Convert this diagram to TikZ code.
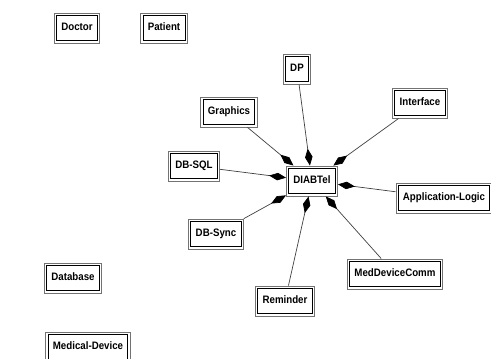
\documentclass[tikz,border=0pt]{standalone}
\usepackage{fontspec}
\setmainfont[FakeStretch=0.9]{Liberation Sans}
\usetikzlibrary{arrows.meta}

\begin{document}
\begin{tikzpicture}
   [x=1pt,y=-1pt,
    every node/.style={draw=black!55, line width=0.9pt,
      inner xsep=7pt, text height=8pt, text depth=2.2pt, minimum height=30pt,
      font=\fontsize{10.8}{12}\selectfont\bfseries,
      path picture={\draw[black, line width=0.9pt]
        ([shift={(2.2pt,-2.2pt)}]path picture bounding box.north west) rectangle
        ([shift={(-2.2pt,2.2pt)}]path picture bounding box.south east);}},
    comp/.style={draw=black!75, line width=0.7pt,
      -{Diamond[length=17pt,width=7.5pt,color=black]}}]

\useasboundingbox (0,0) rectangle (491,359);

%%%%%%%%%%%%%%%%%%%%%%%%%%%%%%%%%%%%%%%%%%%%%%%%%%%%%%%%%%%%%%%
% Classes without links
%%%%%%%%%%%%%%%%%%%%%%%%%%%%%%%%%%%%%%%%%%%%%%%%%%%%%%%%%%%%%%%

\node[](doctor) at (77,28) {Doctor};
\node[](patient) at (164,28) {Patient};
\node[](database) at (73,278) {Database};
\node[](meddev) at (88,347) {Medical-Device};

%%%%%%%%%%%%%%%%%%%%%%%%%%%%%%%%%%%%%%%%%%%%%%%%%%%%%%%%%%%%%%%
% DIABTel and its parts
%%%%%%%%%%%%%%%%%%%%%%%%%%%%%%%%%%%%%%%%%%%%%%%%%%%%%%%%%%%%%%%

\node[](diab) at (312,181) {DIABTel};

\node[](dp) at (297,69) {DP};
\node[](graphics) at (229,112) {Graphics};
\node[](interface) at (420,103) {Interface};
\node[](dbsql) at (194,166) {DB-SQL};
\node[](applogic) at (444,198) {Application-Logic};
\node[](dbsync) at (216,234) {DB-Sync};
\node[](reminder) at (285,301) {Reminder};
\node[](devcomm) at (395,274) {MedDeviceComm};

%%%%%%%%%%%%%%%%%%%%%%%%%%%%%%%%%%%%%%%%%%%%%%%%%%%%%%%%%%%%%%%
% Connecting parts to DIABTel
%%%%%%%%%%%%%%%%%%%%%%%%%%%%%%%%%%%%%%%%%%%%%%%%%%%%%%%%%%%%%%%

\draw[comp] (dp) -- (diab);
\draw[comp] (graphics) -- (diab);
\draw[comp] (interface) -- (diab);
\draw[comp] (dbsql) -- (diab);
\draw[comp] (applogic) -- (diab);
\draw[comp] (dbsync) -- (diab);
\draw[comp] (reminder) -- (diab);
\draw[comp] (devcomm) -- (diab);

\end{tikzpicture}
\end{document}
